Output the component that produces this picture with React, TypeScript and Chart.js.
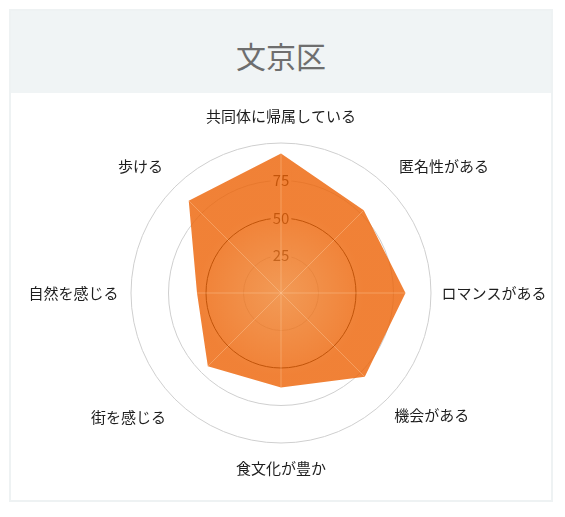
import { useEffect, useRef } from "react";
import { Chart, registerables } from "chart.js";

Chart.register(...registerables);

const title = "文京区";
const categories = [
  "共同体に帰属している",
  "匿名性がある",
  "ロマンスがある",
  "機会がある",
  "食文化が豊か",
  "街を感じる",
  "自然を感じる",
  "歩ける",
];
const scores = [93, 78, 83, 79, 63, 69, 56, 87];
const tickLabels = [25, 50, 75];
const scaleMax = 100;
const tickStep = 25;

const FONT = "'Noto Sans CJK JP', 'Noto Sans', sans-serif";
// per-label distance from the outer ring, top label first, clockwise
const labelPad = [8.1, 7.5, 1.0, 0.5, 6.8, 3.0, 3.0, 7.5];

// light seams from the centre to each vertex, drawn over the fill
const seams = {
  id: "seams",
  afterDatasetsDraw(chart: any) {
    const r = chart.scales.r;
    const ctx = chart.ctx;
    ctx.save();
    ctx.strokeStyle = "rgba(255, 214, 176, 0.35)";
    ctx.lineWidth = 1;
    scores.forEach((v, i) => {
      const p = r.getPointPositionForValue(i, v);
      ctx.beginPath();
      ctx.moveTo(r.xCenter, r.yCenter);
      ctx.lineTo(p.x, p.y);
      ctx.stroke();
    });
    ctx.restore();
  },
};

const RadarChart = () => {
  const chartRef = useRef<HTMLCanvasElement>(null);

  useEffect(() => {
    if (!chartRef.current) return;
    const ctx = chartRef.current.getContext("2d");
    if (!ctx) return;
    Chart.defaults.font.family = FONT;

    const chart = new Chart(ctx, {
      type: "radar",
      data: {
        labels: categories,
        datasets: [
          {
            data: scores,
            fill: true,
            backgroundColor: (c: any) => {
              const r = c.chart.scales.r;
              if (!r || !r.drawingArea) return "rgba(237, 102, 16, 0.81)";
              const g = c.chart.ctx.createRadialGradient(
                r.xCenter, r.yCenter, 0, r.xCenter, r.yCenter, r.drawingArea
              );
              g.addColorStop(0, "rgba(239, 131, 47, 0.81)");
              g.addColorStop(0.55, "rgba(237, 100, 8, 0.81)");
              g.addColorStop(1, "rgba(237, 100, 8, 0.81)");
              return g;
            },
            borderColor: "transparent",
            borderWidth: 0,
            pointRadius: 0,
            pointHoverRadius: 0,
          },
        ],
      },
      options: {
        animation: false,
        responsive: true,
        maintainAspectRatio: false,
        layout: { padding: { left: 11.5, right: 11.5, top: 0, bottom: 7 } },
        plugins: {
          legend: { display: false },
          tooltip: { enabled: false },
        },
        scales: {
          r: {
            min: 0,
            max: scaleMax,
            angleLines: { display: false },
            grid: {
              circular: true,
              color: (c: any) => (c.tick && c.tick.value === 50 ? "#000000" : "#cfcfcf"),
              lineWidth: 1,
            },
            ticks: {
              stepSize: tickStep,
              font: { size: 15, family: FONT },
              color: "#111111",
              backdropColor: "#ffffff",
              backdropPadding: 2,
              showLabelBackdrop: (c: any) => !!c.tick && tickLabels.includes(c.tick.value),
              callback: (v: any) => (tickLabels.includes(Number(v)) ? String(v) : ""),
            },
            pointLabels: {
              font: { size: 15, family: FONT },
              color: "#1e1e1e",
              padding: (c: any) => labelPad[c.index],
            },
          },
        },
      },
      plugins: [seams],
    });
    return () => chart.destroy();
  }, []);

  return <canvas ref={chartRef}></canvas>;
};

export default function App() {
  return (
    <div
      style={{
        position: "relative",
        marginLeft: 1,
        marginTop: 1,
        width: 544,
        height: 493,
        boxSizing: "border-box",
        border: "2px solid #eef2f3",
        background: "#ffffff",
      }}
    >
      <div
        style={{
          height: 82,
          boxSizing: "border-box",
          paddingTop: 6,
          background: "#f0f4f5",
          display: "flex",
          alignItems: "center",
          justifyContent: "center",
          fontFamily: FONT,
          fontSize: 30,
          color: "#6e6e6e",
        }}
      >
        {title}
      </div>
      <div style={{ position: "absolute", left: 0, top: 82, width: 554, height: 407 }}>
        <RadarChart />
      </div>
    </div>
  );
}
